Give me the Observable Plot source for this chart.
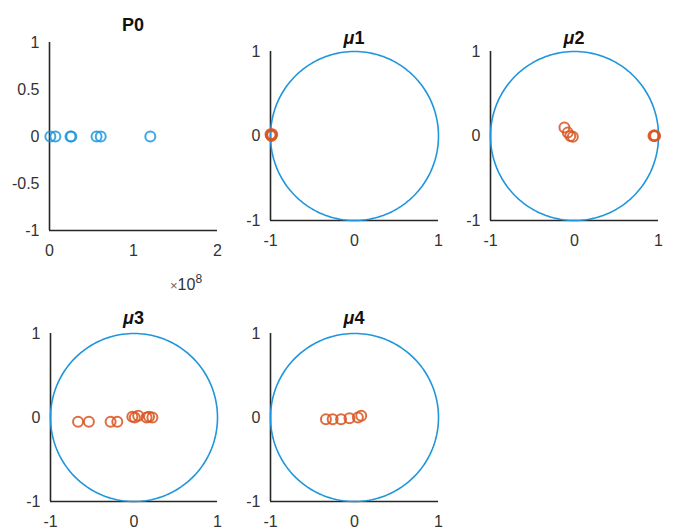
<!DOCTYPE html>
<html>
<head>
<meta charset="utf-8">
<script src="https://cdn.jsdelivr.net/npm/d3@7"></script>
<script src="https://cdn.jsdelivr.net/npm/@observablehq/plot@0.6"></script>
<style>
  html, body { margin: 0; padding: 0; background: #ffffff; }
  #root { position: relative; width: 673px; height: 532px; overflow: hidden; font-family: "Liberation Sans", Arial, sans-serif; }
  .panel { position: absolute; }
  .title { position: absolute; transform: translate(-50%, -50%); font-weight: bold; font-size: 18px; color: #111; white-space: nowrap; }
  .expo { position: absolute; font-size: 16px; color: #333; white-space: nowrap; }
  .expo .x { font-size: 13px; color: #666; }
  .expo sup { font-size: 12px; position: relative; top: -1px; }
</style>
</head>
<body>
<div id="root"></div>
<script>
// ---- data ----
const panelTitles = ["P0", "μ1", "μ2", "μ3", "μ4"];

const p0X = [1e6, 7e6, 2.5e7, 2.6e7, 5.6e7, 6.1e7, 1.2e8];
const p0Y = [0, 0, 0, 0, 0, 0, 0];

const mu1X = [-1.0, -0.99, -0.98, -0.99];
const mu1Y = [0.02, 0.01, 0.02, 0.0];

const mu2X = [-0.12, -0.08, -0.05, -0.02, 0.94, 0.95, 0.96];
const mu2Y = [0.10, 0.04, 0.0, -0.01, 0.0, 0.01, 0.0];

const mu3X = [-0.67, -0.54, -0.28, -0.20, -0.02, 0.01, 0.05, 0.15, 0.18, 0.22];
const mu3Y = [-0.05, -0.05, -0.05, -0.05, 0.01, 0.0, 0.02, 0.0, 0.01, 0.0];

const mu4X = [-0.34, -0.26, -0.16, -0.06, 0.04, 0.08];
const mu4Y = [-0.02, -0.02, -0.02, -0.01, 0.0, 0.02];

const p0XTicks = [0, 1e8, 2e8];
const p0YTicks = [-1, -0.5, 0, 0.5, 1];
const unitTicks = [-1, 0, 1];
const expoLabel = "8";
const unitRadius = 1;

// ---- styling ----
const blue = "#1f96dc";
const orange = "#d9531e";
const axisColor = "#262626";
const font = "'Liberation Sans', Arial, sans-serif";

const zip = (xs, ys) => xs.map((x, i) => ({x, y: ys[i]}));
const unitCircle = d3.range(0, 361, 2).map(a => ({
  x: unitRadius * Math.cos(a * Math.PI / 180),
  y: unitRadius * Math.sin(a * Math.PI / 180)
}));

const root = document.getElementById("root");
const mL = 40, mR = 15, mT = 12, mB = 35;

function panel({box, xDomain, yDomain, xTicks, yTicks, xFormat, points, color, circle, title, titleY}) {
  const w = box.x1 - box.x0, h = box.y1 - box.y0;
  const marks = [
    Plot.ruleX([xDomain[0]], {stroke: axisColor, strokeWidth: 1.6}),
    Plot.ruleY([yDomain[0]], {stroke: axisColor, strokeWidth: 1.6}),
    Plot.axisX({ticks: xTicks, tickSize: 0, tickPadding: 14, tickFormat: xFormat || (d => String(d)), label: null, fill: "#333"}),
    Plot.axisY({ticks: yTicks, tickSize: 0, tickPadding: 10, tickFormat: d => String(d), label: null, fill: "#333"})
  ];
  if (circle) marks.push(Plot.line(unitCircle, {x: "x", y: "y", stroke: blue, strokeWidth: 1.6}));
  marks.push(Plot.dot(points, {x: "x", y: "y", r: 5, stroke: color, strokeWidth: 2, strokeOpacity: 0.85}));
  const svg = Plot.plot({
    width: w + mL + mR,
    height: h + mT + mB,
    marginLeft: mL, marginRight: mR, marginTop: mT, marginBottom: mB,
    x: {domain: xDomain},
    y: {domain: yDomain},
    style: {fontFamily: font, fontSize: "16px", background: "transparent", overflow: "visible"},
    marks
  });
  const holder = document.createElement("div");
  holder.className = "panel";
  holder.style.left = (box.x0 - mL) + "px";
  holder.style.top = (box.y0 - mT) + "px";
  holder.appendChild(svg);
  root.appendChild(holder);

  const t = document.createElement("div");
  t.className = "title";
  t.style.left = ((box.x0 + box.x1) / 2) + "px";
  t.style.top = titleY + "px";
  if (title.startsWith("μ")) {
    t.innerHTML = "<i>μ</i>" + title.slice(1);
  } else {
    t.textContent = title;
  }
  root.appendChild(t);
}

panel({
  box: {x0: 49, x1: 217, y0: 42, y1: 230},
  xDomain: [0, 2e8], yDomain: [-1, 1],
  xTicks: p0XTicks, yTicks: p0YTicks, xFormat: d => String(d / 1e8),
  points: zip(p0X, p0Y), color: blue, circle: false,
  title: panelTitles[0], titleY: 25
});
panel({
  box: {x0: 270, x1: 438, y0: 51, y1: 220},
  xDomain: [-1, 1], yDomain: [-1, 1], xTicks: unitTicks, yTicks: unitTicks,
  points: zip(mu1X, mu1Y), color: orange, circle: true,
  title: panelTitles[1], titleY: 38
});
panel({
  box: {x0: 490, x1: 658, y0: 51, y1: 220},
  xDomain: [-1, 1], yDomain: [-1, 1], xTicks: unitTicks, yTicks: unitTicks,
  points: zip(mu2X, mu2Y), color: orange, circle: true,
  title: panelTitles[2], titleY: 38
});
panel({
  box: {x0: 50, x1: 217, y0: 333, y1: 501},
  xDomain: [-1, 1], yDomain: [-1, 1], xTicks: unitTicks, yTicks: unitTicks,
  points: zip(mu3X, mu3Y), color: orange, circle: true,
  title: panelTitles[3], titleY: 318
});
panel({
  box: {x0: 270, x1: 438, y0: 333, y1: 501},
  xDomain: [-1, 1], yDomain: [-1, 1], xTicks: unitTicks, yTicks: unitTicks,
  points: zip(mu4X, mu4Y), color: orange, circle: true,
  title: panelTitles[4], titleY: 318
});

const ex = document.createElement("div");
ex.className = "expo";
ex.style.left = "170px";
ex.style.top = "273px";
ex.innerHTML = "<span class=\"x\">×</span>10<sup>" + expoLabel + "</sup>";
root.appendChild(ex);
</script>
</body>
</html>
